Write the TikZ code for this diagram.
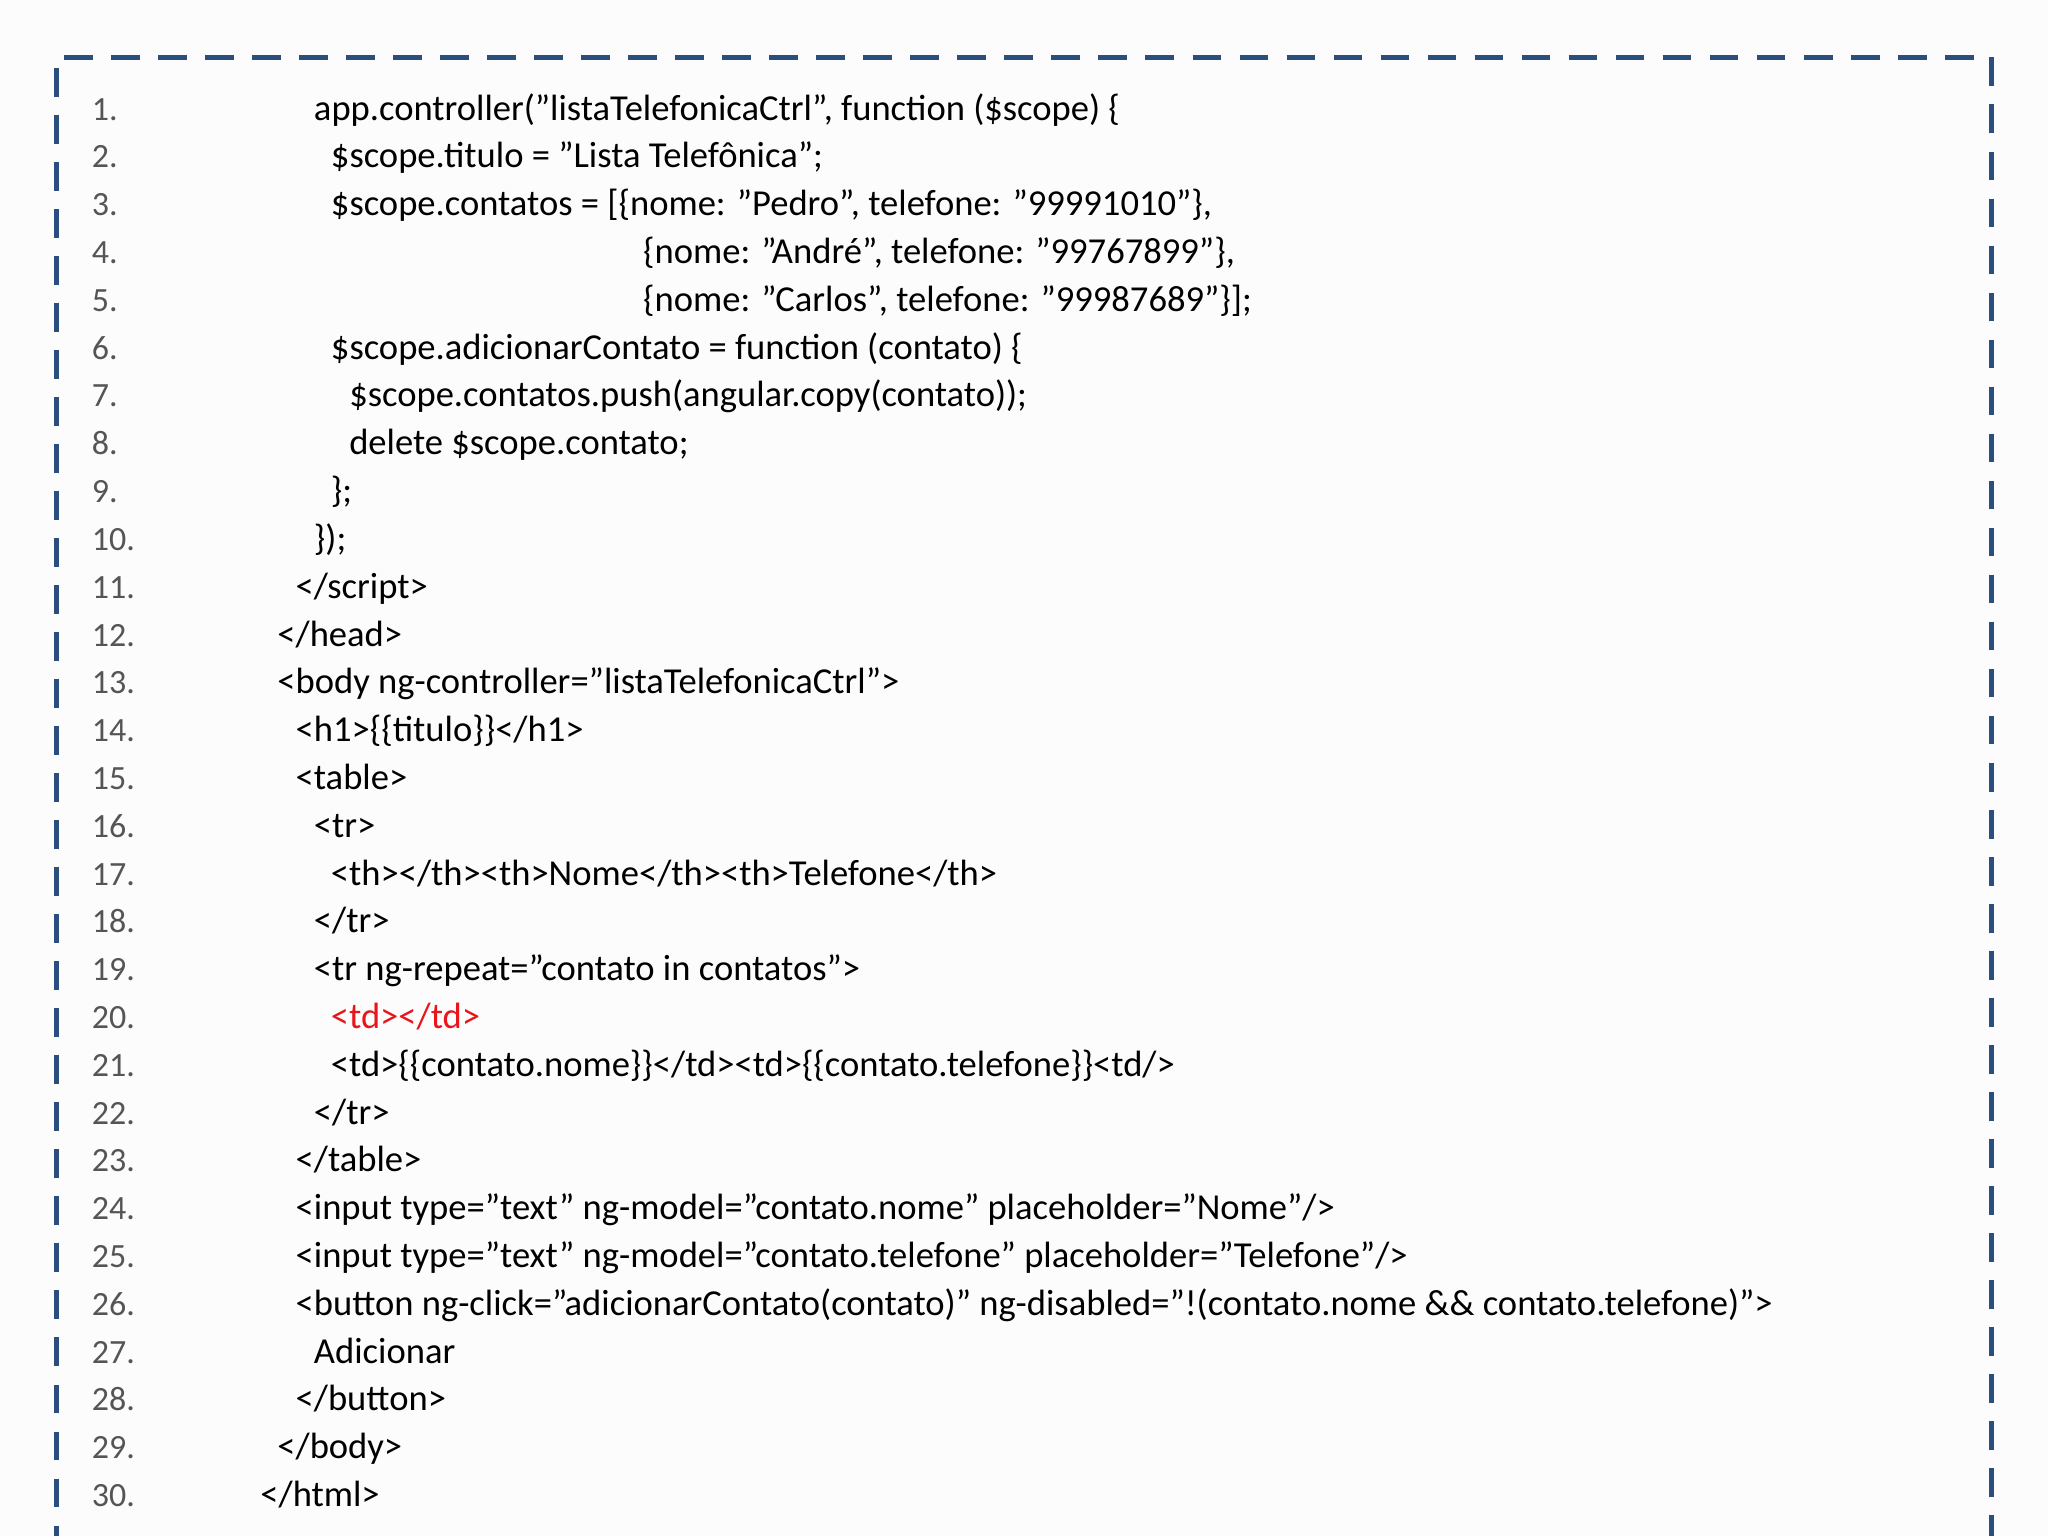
\documentclass[tikz,border=0pt]{standalone}
\usepackage{fontspec}
\setmainfont{Carlito}
\definecolor{frame}{HTML}{2A4F7E}
\definecolor{num}{HTML}{555555}
\definecolor{redc}{HTML}{E8161B}
\begin{document}
\begin{tikzpicture}[x=0.5pt,y=-0.5pt,
  codeline/.style={anchor=base west,inner sep=0pt,font=\fontsize{14}{16}\selectfont},
  numline/.style={anchor=base west,inner sep=0pt,text=num,font=\fontsize{13}{16}\selectfont}]
\useasboundingbox (0,0) rectangle (1568,1176);
\fill[white!98!gray] (0,0) rectangle (1568,1176);
\draw[frame,line width=2pt,dash pattern=on 11pt off 7pt] (43,1190) -- (43,44) -- (1525,44) -- (1525,1190);
\foreach \n/\x/\t [count=\i] in {
1/240/{app.controller("listaTelefonicaCtrl", function (\$scope) \{},
2/253/{\$scope.titulo = "Lista Telefônica";},
3/253/{\$scope.contatos = [\{nome: "Pedro", telefone: "99991010"\},},
4/492/{\{nome: "André", telefone: "99767899"\},},
5/492/{\{nome: "Carlos", telefone: "99987689"\}];},
6/253/{\$scope.adicionarContato = function (contato) \{},
7/267/{\$scope.contatos.push(angular.copy(contato));},
8/267/{delete \$scope.contato;},
9/253/{\};},
10/240/{\});},
11/226/{</script>},
12/212/{</head>},
13/212/{<body ng-controller="listaTelefonicaCtrl">},
14/226/{<h1>\{\{titulo\}\}</h1>},
15/226/{<table>},
16/240/{<tr>},
17/253/{<th></th><th>Nome</th><th>Telefone</th>},
18/240/{</tr>},
19/240/{<tr ng-repeat="contato in contatos">},
20/253/{\textcolor{redc}{<td></td>}},
21/253/{<td>\{\{contato.nome\}\}</td><td>\{\{contato.telefone\}\}<td/>},
22/240/{</tr>},
23/226/{</table>},
24/226/{<input type="text" ng-model="contato.nome" placeholder="Nome"/>},
25/226/{<input type="text" ng-model="contato.telefone" placeholder="Telefone"/>},
26/226/{<button ng-click="adicionarContato(contato)" ng-disabled="!(contato.nome \&\& contato.telefone)">},
27/240/{Adicionar},
28/226/{</button>},
29/212/{</body>},
30/199/{</html>}}
{
  \node[numline] (n\n) at (70,{92+(\n-1)*36.6}) {\n.};
  \node[codeline] (c\n) at (\x,{92+(\n-1)*36.6}) {\t};
}
\end{tikzpicture}
\end{document}
